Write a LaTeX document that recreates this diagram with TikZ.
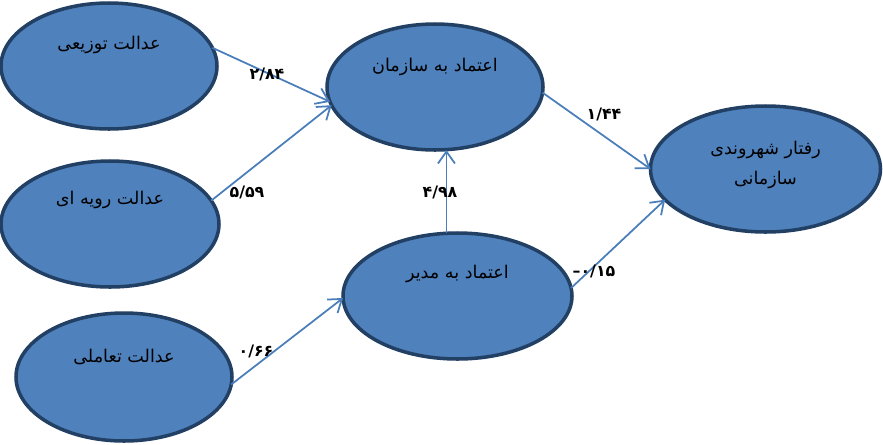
\documentclass[tikz,border=0pt]{standalone}
\usepackage{fontspec}
\newfontfamily\farsi[Script=Arabic]{DejaVu Sans}
\newfontfamily\plainsans{DejaVu Sans}
\TeXXeTstate=1
\definecolor{steel}{HTML}{4F81BD}
\definecolor{navy}{HTML}{223F64}
\definecolor{wire}{HTML}{4A7EBB}
\usetikzlibrary{shapes.geometric, arrows.meta}
\newcommand{\fa}[1]{\beginR #1\endR}
\tikzset{
  factor/.style={ellipse, draw=navy, fill=steel, line width=2pt, inner sep=0pt, outer sep=0pt, minimum height=2.52cm},
  caption/.style={font=\farsi\fontsize{10}{17}\selectfont, align=center, inner sep=0pt},
  link/.style={wire, line width=1pt, -{Straight Barb[length=2.4mm,width=3.4mm]}},
  coef/.style={font=\farsi\bfseries\fontsize{9}{10}\selectfont, inner sep=0pt}
}

\begin{document}
\begin{tikzpicture}
  \useasboundingbox (0,0) rectangle (17.66,-8.88);

  \node[factor, minimum width=4.32cm] (e1) at (2.18,-1.32) {};
  \node[factor, minimum width=4.36cm] (e2) at (2.20,-4.48) {};
  \node[factor, minimum width=4.32cm, minimum height=2.56cm] (e3) at (2.48,-7.54) {};
  \node[factor, minimum width=4.32cm] (e4) at (8.70,-1.74) {};
  \node[factor, minimum width=4.58cm] (e5) at (9.15,-5.92) {};
  \node[factor, minimum width=4.60cm] (e6) at (15.31,-3.38) {};

  \node[caption] (t1) at ([yshift=0.42cm]e1.center) {\fa{عدالت توزیعی}};
  \node[caption] (t2) at ([yshift=0.48cm]e2.center) {\fa{عدالت رویه ای}};
  \node[caption] (t3) at ([yshift=0.40cm]e3.center) {\fa{عدالت تعاملی}};
  \node[caption] (t4) at ([yshift=0.40cm]e4.center) {\fa{اعتماد به سازمان}};
  \node[caption] (t5) at ([yshift=0.44cm]e5.center) {\fa{اعتماد به مدیر}};
  \node[caption] (t6) at ([yshift=0.08cm]e6.center) {\fa{رفتار شهروندی}\\\fa{سازمانی}};

  \draw[link] (e1.10) -- (e4.188);
  \draw[link] (e2.13) -- (e4.190);
  \draw[link] (e3.-4) -- (e5.181);
  \draw[link] (e5.100) -- (e5.100 |- e4.south);
  \draw[link] (e4.-3) -- (e6.180);
  \draw[link] (e5.4) -- (e6.197);

  \node[coef] (w1) at (5.34,-1.48) {۲/۸۴};
  \node[coef] (w2) at (4.94,-3.84) {۵/۵۹};
  \node[coef] (w3) at (5.12,-7.02) {۰/۶۶};
  \node[coef] (w4) at (8.80,-3.84) {۴/۹۸};
  \node[coef] (w5) at (12.08,-2.28) {۱/۴۴};
  \node[coef] (w6) at (11.88,-5.42) {{\plainsans –}۰/۱۵};
\end{tikzpicture}
\end{document}
